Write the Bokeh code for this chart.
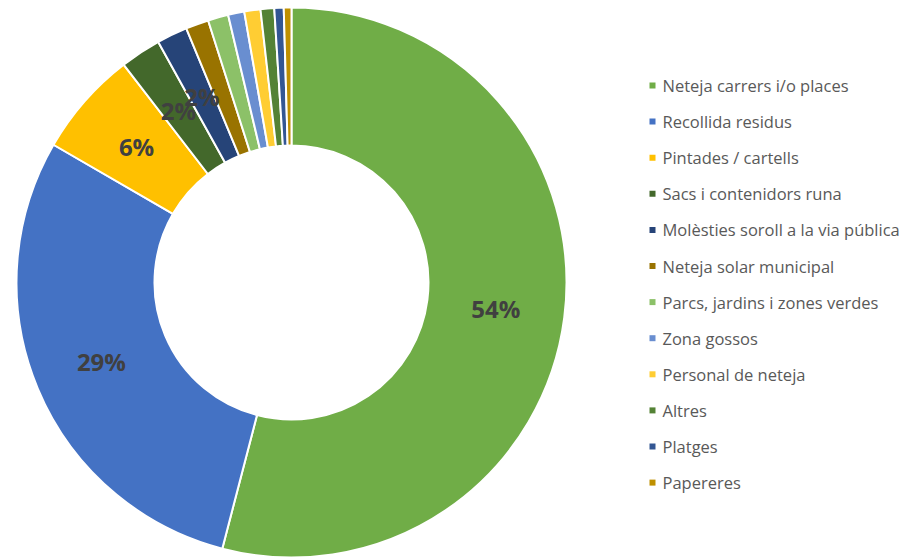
import math
from bokeh.plotting import figure
from bokeh.models import ColumnDataSource
from bokeh.core.properties import value
from bokeh.embed import file_html
from bokeh.resources import INLINE

categories = ["Neteja carrers i/o places", "Recollida residus", "Pintades / cartells",
              "Sacs i contenidors runa", "Molèsties soroll a la via pública",
              "Neteja solar municipal", "Parcs, jardins i zones verdes", "Zona gossos",
              "Personal de neteja", "Altres", "Platges", "Papereres"]
shares = [54.05, 29.3, 6.2, 2.4, 1.8, 1.35, 1.2, 0.95, 0.95, 0.8, 0.55, 0.45]
colors = ["#70AD47", "#4472C4", "#FFC000", "#43682B", "#264478", "#997300",
          "#8CC168", "#698ED0", "#FFCD33", "#548235", "#335693", "#BF9000"]

W, H = 911, 557
p = figure(width=W, height=H, x_range=(0, W), y_range=(0, H),
           output_backend="svg", toolbar_location=None, min_border=0)
p.axis.visible = False
p.grid.visible = False
p.outline_line_color = None
p.background_fill_color = "white"
p.border_fill_color = "white"

cx, cy = 291, H - 282
R_out, R_in = 275, 137
total = sum(shares)
starts, ends, lx, ly, ltxt = [], [], [], [], []
cum = 0.0
for v in shares:
    a0 = math.pi / 2 - cum / total * 2 * math.pi
    cum += v
    a1 = math.pi / 2 - cum / total * 2 * math.pi
    starts.append(a0)
    ends.append(a1)
    mid = (a0 + a1) / 2
    rm = (R_out + R_in) / 2
    lx.append(cx + rm * math.cos(mid))
    ly.append(cy + rm * math.sin(mid))
    ltxt.append(f"{round(v / total * 100)}%" if v / total * 100 >= 1.5 else "")

src = ColumnDataSource(dict(start=starts, end=ends, color=colors, cat=categories,
                            lx=lx, ly=ly, lt=ltxt))
p.annular_wedge(x=cx, y=cy, inner_radius=R_in, outer_radius=R_out,
                start_angle="start", end_angle="end", direction="clock",
                fill_color="color", line_color="white", line_width=2, source=src)
p.text(x="lx", y="ly", text="lt", source=src, text_align="center",
       text_baseline="middle", text_font=value("Open Sans"), text_font_style="bold",
       text_font_size="24px", text_color="#404040")

# legend
leg_x, leg_y0, leg_dy = 652, H - 85, 36.1
mx = [leg_x] * len(categories)
my = [leg_y0 - i * leg_dy for i in range(len(categories))]
tx = [leg_x + 10] * len(categories)
lsrc = ColumnDataSource(dict(mx=mx, my=my, tx=tx, cat=categories, color=colors))
p.scatter(x="mx", y="my", marker="square", size=6, fill_color="color",
          line_color=None, source=lsrc)
p.text(x="tx", y="my", text="cat", source=lsrc, text_align="left",
       text_baseline="middle", text_font=value("Open Sans"), text_font_size="16.5px",
       text_color="#595959")

open("out.html", "w").write(file_html(p, INLINE))
